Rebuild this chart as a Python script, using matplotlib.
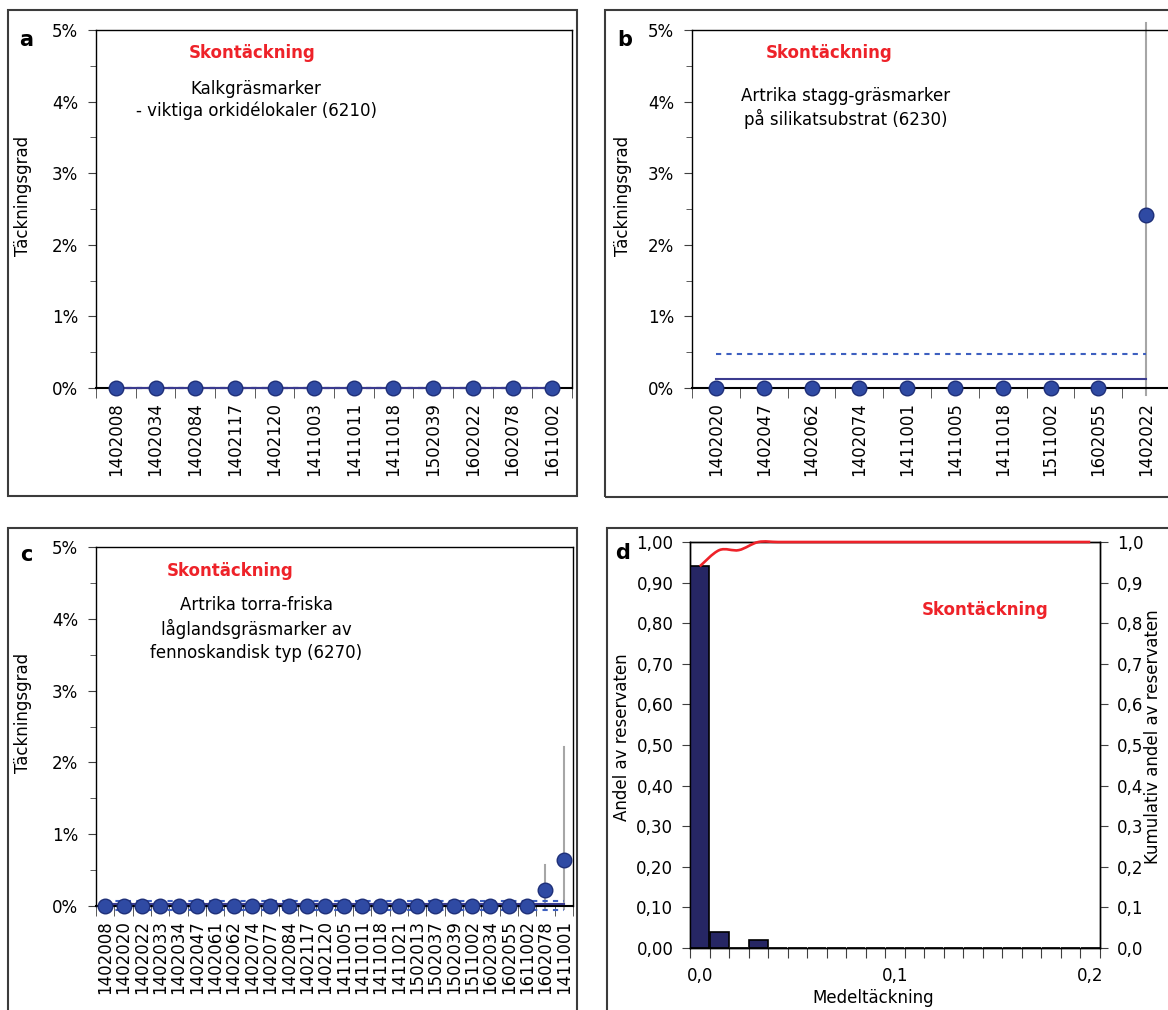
import numpy as np
import matplotlib.pyplot as plt
from matplotlib.patches import Rectangle, PathPatch
from matplotlib.path import Path
from matplotlib.ticker import MultipleLocator, FuncFormatter

plt.rcParams['font.family'] = 'DejaVu Sans'
plt.rcParams['font.size'] = 12

# --- data (cover in %) -------------------------------------------------
sites_a = ['1402008', '1402034', '1402084', '1402117', '1402120', '1411003',
           '1411011', '1411018', '1502039', '1602022', '1602078', '1611002']
cover_a = [0, 0, 0, 0, 0, 0, 0, 0, 0, 0, 0, 0]
ci_lo_a = [np.nan] * 12
ci_hi_a = [np.nan] * 12
mean_a, band_lo_a, band_hi_a = 0.0, 0.0, 0.0

sites_b = ['1402020', '1402047', '1402062', '1402074', '1411001',
           '1411005', '1411018', '1511002', '1602055', '1402022']
cover_b = [0, 0, 0, 0, 0, 0, 0, 0, 0, 2.42]
ci_lo_b = [np.nan] * 9 + [-0.1]
ci_hi_b = [np.nan] * 9 + [5.1]
mean_b, band_lo_b, band_hi_b = 0.13, np.nan, 0.47

sites_c = ['1402008', '1402020', '1402022', '1402033', '1402034', '1402047',
           '1402061', '1402062', '1402074', '1402077', '1402084', '1402117',
           '1402120', '1411005', '1411011', '1411018', '1411021', '1502013',
           '1502037', '1502039', '1511002', '1602034', '1602055', '1611002',
           '1602078', '1411001']
cover_c = [0, 0, 0, 0, 0, 0, 0, 0, 0, 0, 0, 0, 0,
           0, 0, 0, 0, 0, 0, 0, 0, 0, 0, 0, 0.22, 0.64]
ci_lo_c = [np.nan] * 24 + [-0.04, -0.04]
ci_hi_c = [np.nan] * 24 + [0.57, 2.21]
mean_c, band_lo_c, band_hi_c = 0.03, -0.05, 0.065

# panel d: histogram of mean cover, bins 0.00 .. 0.20
bins_d = [0.00, 0.01, 0.02, 0.03, 0.04, 0.05, 0.06, 0.07, 0.08, 0.09, 0.10,
          0.11, 0.12, 0.13, 0.14, 0.15, 0.16, 0.17, 0.18, 0.19, 0.20]
share_d = [0.94, 0.04, 0.00, 0.02, 0.00, 0.00, 0.00, 0.00, 0.00, 0.00, 0.00,
           0.00, 0.00, 0.00, 0.00, 0.00, 0.00, 0.00, 0.00, 0.00, 0.00]
cum_d = [0.94, 0.98, 0.98, 1.00, 1.00, 1.00, 1.00, 1.00, 1.00, 1.00, 1.00,
         1.00, 1.00, 1.00, 1.00, 1.00, 1.00, 1.00, 1.00, 1.00, 1.00]

W, H = 1168, 1010
RED = '#ee2229'
fig = plt.figure(figsize=(W / 100, H / 100), dpi=100)


def px(x, y):
    return x / W, 1 - y / H


def px_axes(left, top, right, bottom):
    return fig.add_axes([left / W, 1 - bottom / H, (right - left) / W, (bottom - top) / H])


def frame(left, top, right, bottom):
    fig.patches.append(Rectangle(px(left, bottom), (right - left) / W, (bottom - top) / H,
                                 transform=fig.transFigure, fill=False, lw=1.5, ec='#3c3c3c'))


def site_panel(ax, sites, cover, ci_lo, ci_hi, mean, band_lo, band_hi):
    x = np.arange(len(sites))
    ax.set_xlim(-0.5, len(sites) - 0.5)
    ax.set_ylim(0, 5)
    for xi, lo, hi in zip(x, ci_lo, ci_hi):
        if not np.isnan(hi):
            ax.plot([xi, xi], [lo, hi], color='#a6a6a6', lw=1.5, clip_on=False, zorder=2)
    for level in (band_lo, band_hi):
        if not np.isnan(level):
            ax.plot([x[0], x[-1]], [level, level], ls=(0, (2.5, 2.5)), color='#3d5fc0',
                    lw=1.5, clip_on=False, zorder=3)
    ax.plot([x[0], x[-1]], [mean, mean], color='#3b3b8f', lw=1.5, clip_on=False, zorder=3)
    ax.plot(x, cover, 'o', ms=10.5, mfc='#2f4aa3', mec='#1e2f78', mew=1,
            clip_on=False, zorder=5)

    ax.set_xticks(x)
    ax.set_xticklabels(sites, rotation=90)
    ax.tick_params(axis='x', which='major', length=0, pad=10)
    ax.set_xticks(np.arange(len(sites) + 1) - 0.5, minor=True)
    ax.tick_params(axis='x', which='minor', length=7, direction='out', color='#404040')
    ax.yaxis.set_major_locator(MultipleLocator(1))
    ax.yaxis.set_minor_locator(MultipleLocator(0.5))
    ax.yaxis.set_major_formatter(FuncFormatter(lambda v, p: f'{v:.0f}%'))
    ax.tick_params(axis='y', which='major', length=6, pad=7, color='#404040')
    ax.tick_params(axis='y', which='minor', length=4, color='#404040')
    for s in ax.spines.values():
        s.set_linewidth(1.0)
        s.set_color('black')
    ax.spines['bottom'].set_linewidth(1.5)


# --- panel a -----------------------------------------------------------
frame(8, 10, 577, 496)
ax_a = px_axes(96, 30, 572, 388)
site_panel(ax_a, sites_a, cover_a, ci_lo_a, ci_hi_a, mean_a, band_lo_a, band_hi_a)
fig.text(*px(26, 40), 'a', fontsize=15, fontweight='bold', ha='center', va='center')
fig.text(*px(252, 53), 'Skontäckning', color=RED, fontweight='bold', ha='center', va='center')
fig.text(*px(256, 100), 'Kalkgräsmarker\n- viktiga orkidélokaler (6210)',
         ha='center', va='center', linespacing=1.3)
fig.text(*px(23, 196), 'Täckningsgrad', rotation=90, ha='center', va='center')

# --- panel b -----------------------------------------------------------
frame(605, 10, 1180, 497)
ax_b = px_axes(692, 30, 1170, 388)
site_panel(ax_b, sites_b, cover_b, ci_lo_b, ci_hi_b, mean_b, band_lo_b, band_hi_b)
fig.text(*px(625, 40), 'b', fontsize=15, fontweight='bold', ha='center', va='center')
fig.text(*px(829, 53), 'Skontäckning', color=RED, fontweight='bold', ha='center', va='center')
fig.text(*px(846, 108), 'Artrika stagg-gräsmarker\npå silikatsubstrat (6230)',
         ha='center', va='center', linespacing=1.25)
fig.text(*px(623, 196), 'Täckningsgrad', rotation=90, ha='center', va='center')

# --- panel c -----------------------------------------------------------
frame(8, 528, 577, 1020)
ax_c = px_axes(96, 547, 573, 906)
site_panel(ax_c, sites_c, cover_c, ci_lo_c, ci_hi_c, mean_c, band_lo_c, band_hi_c)
fig.text(*px(26, 555), 'c', fontsize=15, fontweight='bold', ha='center', va='center')
fig.text(*px(230, 571), 'Skontäckning', color=RED, fontweight='bold', ha='center', va='center')
fig.text(*px(256, 629), 'Artrika torra-friska\nlåglandsgräsmarker av\nfennoskandisk typ (6270)',
         ha='center', va='center', linespacing=1.3)
fig.text(*px(23, 713), 'Täckningsgrad', rotation=90, ha='center', va='center')

# --- panel d -----------------------------------------------------------
frame(607, 528, 1180, 1020)
ax_d = px_axes(690, 542, 1100, 948)
ax_d.bar(bins_d, share_d, width=0.0095, color='#262664', edgecolor='black', lw=1.2, zorder=3)
ax_d.set_xlim(-0.005, 0.205)
ax_d.set_ylim(0, 1)
ax_d.set_xticks(np.arange(len(bins_d) + 1) * 0.01 - 0.005)
ax_d.set_xticklabels([])
ax_d.tick_params(axis='x', which='major', length=7, color='#404040')
ax_d.set_xticks([bins_d[0], bins_d[10], bins_d[20]], minor=True)
ax_d.set_xticklabels(['0,0', '0,1', '0,2'], minor=True)
ax_d.tick_params(axis='x', which='minor', length=0, pad=14)
ax_d.yaxis.set_major_locator(MultipleLocator(0.1))
ax_d.yaxis.set_major_formatter(FuncFormatter(lambda v, p: f'{v:.2f}'.replace('.', ',')))
ax_d.tick_params(axis='y', length=6, pad=6, color='#404040')
for s in ax_d.spines.values():
    s.set_linewidth(1.0)
    s.set_color('black')

ax_d2 = ax_d.twinx()
ax_d2.set_ylim(0, 1)
ax_d2.yaxis.set_major_locator(MultipleLocator(0.1))
ax_d2.yaxis.set_major_formatter(FuncFormatter(lambda v, p: f'{v:.1f}'.replace('.', ',')))
ax_d2.tick_params(axis='y', length=6, pad=6, color='#404040')
for s in ax_d2.spines.values():
    s.set_linewidth(1.0)
    s.set_color('black')

# smoothed cumulative line (Catmull-Rom style Bezier, as in the spreadsheet)
pts = np.column_stack([bins_d, cum_d])
verts = [pts[0]]
codes = [Path.MOVETO]
n = len(pts)
for i in range(n - 1):
    p0, p1 = pts[max(i - 1, 0)], pts[i]
    p2, p3 = pts[i + 1], pts[min(i + 2, n - 1)]
    verts += [p1 + (p2 - p0) / 6, p2 - (p3 - p1) / 6, p2]
    codes += [Path.CURVE4] * 3
ax_d2.add_patch(PathPatch(Path(verts, codes), fill=False, ec=RED, lw=1.9,
                          clip_on=False, zorder=4))

fig.text(*px(623, 553), 'd', fontsize=15, fontweight='bold', ha='center', va='center')
fig.text(*px(985, 610), 'Skontäckning', color=RED, fontweight='bold', ha='center', va='center')
fig.text(*px(622, 737), 'Andel av reservaten', rotation=90, ha='center', va='center')
fig.text(*px(1153, 737), 'Kumulativ andel av reservaten', rotation=90, ha='center', va='center')
fig.text(*px(873, 998), 'Medeltäckning', ha='center', va='center')

fig.savefig('out.png', dpi=100)
